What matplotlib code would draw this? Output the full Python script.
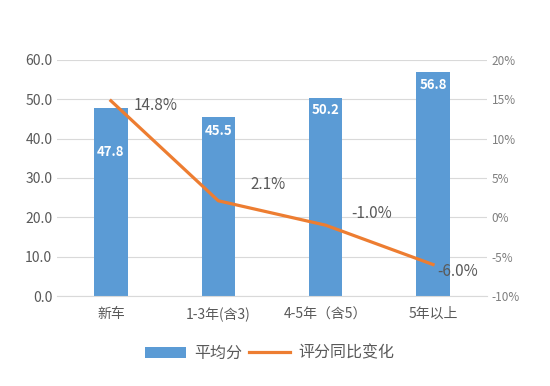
import matplotlib
matplotlib.use('Agg')
from matplotlib import pyplot as plt
from matplotlib.ticker import FuncFormatter

plt.rcParams['font.family'] = ['Noto Sans CJK SC', 'DejaVu Sans']

# data
categories = ['新车', '1-3年(含3)', '4-5年（含5）', '5年以上']
avg_score = [47.8, 45.5, 50.2, 56.8]
yoy_change = [14.8, 2.1, -1.0, -6.0]

# label offsets (pixels)
bar_label_off = [-44, -14, -12, -13]
line_label_off = [(45, -5), (50, 16), (46, 12), (25, -7)]

blue = '#5B9BD5'
orange = '#ED7D31'
grey = '#595959'

fig = plt.figure(figsize=(5.5, 3.86), dpi=100)
ax = fig.add_axes([0.104, 0.233, 0.781, 0.612])
x = list(range(len(categories)))

bars = ax.bar(x, avg_score, width=0.31, color=blue, label='平均分', zorder=2)
ax.set_ylim(0, 60)
ax.set_yticks([0, 10, 20, 30, 40, 50, 60])
ax.yaxis.set_major_formatter(FuncFormatter(lambda v, p: '%.1f' % v))
ax.set_xlim(-0.5, 3.5)
ax.set_xticks(x)
ax.set_xticklabels(categories)
ax.grid(axis='y', color='#D9D9D9', linewidth=0.8, zorder=0)
ax.tick_params(length=0, colors=grey, labelsize=10)
ax.tick_params(axis='x', pad=8, labelsize=10)
for s in ax.spines.values():
    s.set_visible(False)
ax.spines['bottom'].set_visible(True)
ax.spines['bottom'].set_color('#D9D9D9')

for i, v in enumerate(avg_score):
    ax.annotate('%.1f' % v, (x[i], v), xytext=(0, bar_label_off[i]),
                textcoords='offset pixels', ha='center', va='center',
                color='white', fontsize=9.5, fontweight='bold')

ax2 = ax.twinx()
line, = ax2.plot(x, yoy_change, color=orange, linewidth=2.3, label='评分同比变化', zorder=3)
ax2.set_ylim(-10, 20)
ax2.set_yticks([-10, -5, 0, 5, 10, 15, 20])
ax2.yaxis.set_major_formatter(FuncFormatter(lambda v, p: '%d%%' % v))
ax2.tick_params(length=0, colors='#7F7F7F', labelsize=8.5)
for s in ax2.spines.values():
    s.set_visible(False)

for i, v in enumerate(yoy_change):
    ax2.annotate('%.1f%%' % v, (x[i], v), xytext=line_label_off[i],
                 textcoords='offset pixels', ha='center', va='center',
                 color=grey, fontsize=11)

fig.legend([bars, line], ['平均分', '评分同比变化'], loc='center',
           bbox_to_anchor=(0.49, 0.085), ncol=2, frameon=False,
           fontsize=11.5, labelcolor=grey, handlelength=2.6,
           columnspacing=0.4, handletextpad=0.5)

plt.savefig('out.png', dpi=100)
